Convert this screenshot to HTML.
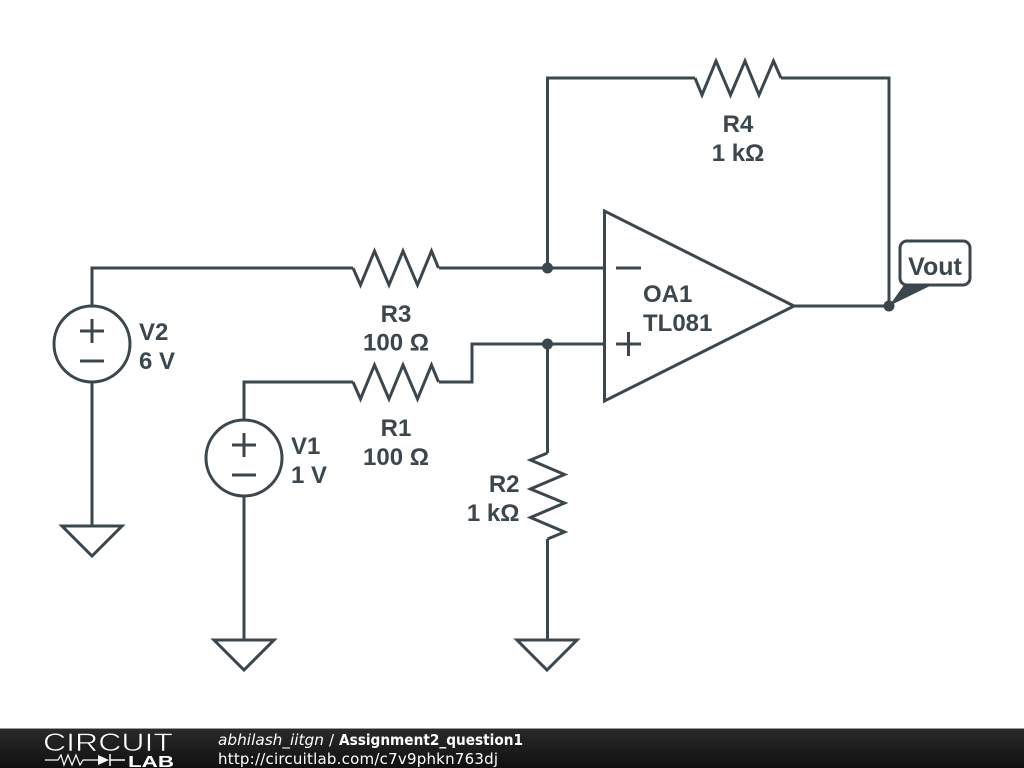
<!DOCTYPE html>
<html>
<head>
<meta charset="utf-8">
<style>
html,body{margin:0;padding:0;background:#fff;width:1024px;height:768px;overflow:hidden}
svg{display:block}
.w{fill:none;stroke:#3c474d;stroke-width:3;stroke-linejoin:miter;stroke-linecap:butt}
.t{font-family:"Liberation Sans",sans-serif;font-weight:bold;font-size:24px;fill:#3c474d}
.f{font-family:"DejaVu Sans",sans-serif;fill:#fff}
</style>
</head>
<body>
<svg width="1024" height="768" viewBox="0 0 1024 768" xmlns="http://www.w3.org/2000/svg">
<defs>
<linearGradient id="bar" x1="0" y1="0" x2="0" y2="1"><stop offset="0" stop-color="#2a2a2a"/><stop offset="1" stop-color="#101010"/></linearGradient>
</defs>
<rect width="1024" height="768" fill="#fff"/>

<!-- wires -->
<path class="w" d="M92 306V268H353M439 268H604"/>
<path class="w" d="M92 382V526"/>
<path class="w" d="M244 420V382H353M439 382H472V344H604"/>
<path class="w" d="M244 496V640"/>
<path class="w" d="M547.5 344V453M547.5 539V640"/>
<path class="w" d="M547.5 268V78H695M781 78H889V306"/>
<path class="w" d="M794 306H889"/>

<!-- resistors -->
<path class="w" d="M353 268L360.5 285L374.5 251L389 285L403 251L417.5 285L431.5 251L438.5 268"/>
<path class="w" d="M353 382L360.5 399L374.5 365L389 399L403 365L417.5 399L431.5 365L438.5 382"/>
<path class="w" d="M695 78L702 95L716 61L730.500 95L745 61L759 95L773.500 61L781 78"/>
<path class="w" d="M547.5 453L530.500 460L564.500 474.5L530.500 489L564.500 503L530.500 517.5L564.500 532L547.5 539"/>

<!-- sources -->
<circle class="w" cx="92" cy="344" r="38"/>
<path class="w" d="M80 331H104M92 319V343M80 361H104"/>
<circle class="w" cx="244" cy="458" r="38"/>
<path class="w" d="M232 445H256M244 433V457M232 475H256"/>

<!-- grounds -->
<path class="w" d="M62 526H122L92 556Z"/>
<path class="w" d="M214 640H274L244 670Z"/>
<path class="w" d="M517 640H577L547 670Z"/>

<!-- op amp -->
<path class="w" d="M604.5 211V401L794 306Z"/>
<path class="w" d="M616 268H641M616 344H641M628.500 332V356"/>

<!-- junctions -->
<circle cx="547.500" cy="268" r="5.500" fill="#3c474d"/>
<circle cx="547.500" cy="344" r="5.500" fill="#3c474d"/>
<circle cx="889" cy="306" r="5.500" fill="#3c474d"/>

<!-- Vout flag -->
<rect x="900" y="241" width="70" height="44" rx="7" ry="7" fill="#fff" stroke="#3c474d" stroke-width="3"/>
<path d="M889 306L904 285H932Z" fill="#3c474d"/>
<text class="t" x="935" y="275" text-anchor="middle" style="font-size:25px">Vout</text>

<!-- labels -->
<text class="t" x="396" y="322" text-anchor="middle">R3</text>
<text class="t" x="396" y="350.500" text-anchor="middle">100 Ω</text>
<text class="t" x="396" y="436" text-anchor="middle">R1</text>
<text class="t" x="396" y="465" text-anchor="middle">100 Ω</text>
<text class="t" x="738" y="132" text-anchor="middle">R4</text>
<text class="t" x="738" y="161" text-anchor="middle">1 kΩ</text>
<text class="t" x="519.500" y="492" text-anchor="end">R2</text>
<text class="t" x="519.500" y="521" text-anchor="end">1 kΩ</text>
<text class="t" x="139" y="340">V2</text>
<text class="t" x="139" y="369">6 V</text>
<text class="t" x="291" y="454">V1</text>
<text class="t" x="291" y="483">1 V</text>
<text class="t" x="643" y="302">OA1</text>
<text class="t" x="643" y="331">TL081</text>

<!-- footer -->
<rect x="0" y="728" width="1024" height="1" fill="#9a9a9a"/>
<rect x="0" y="729" width="1024" height="39" fill="url(#bar)"/>
<text x="43" y="751" font-family="Liberation Sans, sans-serif" font-size="25" fill="#fff" stroke="#1c1c1c" stroke-width="0.600" textLength="130" lengthAdjust="spacingAndGlyphs">CIRCUIT</text>
<path d="M45 760H58L61 755L64 765L68 755L72 765L76 755L80 765L83 760H98" fill="none" stroke="#fff" stroke-width="1.200"/>
<path d="M98 755L109 760L98 765Z" fill="#fff"/>
<path d="M110 754V766M110 760H125" fill="none" stroke="#fff" stroke-width="1.500"/>
<text x="128" y="767" font-family="Liberation Sans, sans-serif" font-weight="bold" font-size="16" fill="#fff" textLength="46" lengthAdjust="spacingAndGlyphs">LAB</text>
<text class="f" x="218" y="745" font-size="15" font-style="italic" textLength="106" lengthAdjust="spacingAndGlyphs">abhilash_iitgn</text>
<text class="f" x="329" y="745" font-size="15">/</text>
<text class="f" x="339" y="745" font-size="15" font-weight="bold" textLength="184" lengthAdjust="spacingAndGlyphs">Assignment2_question1</text>
<text class="f" x="218" y="764" font-size="15" textLength="280" lengthAdjust="spacing">http://circuitlab.com/c7v9phkn763dj</text>
</svg>
</body>
</html>
